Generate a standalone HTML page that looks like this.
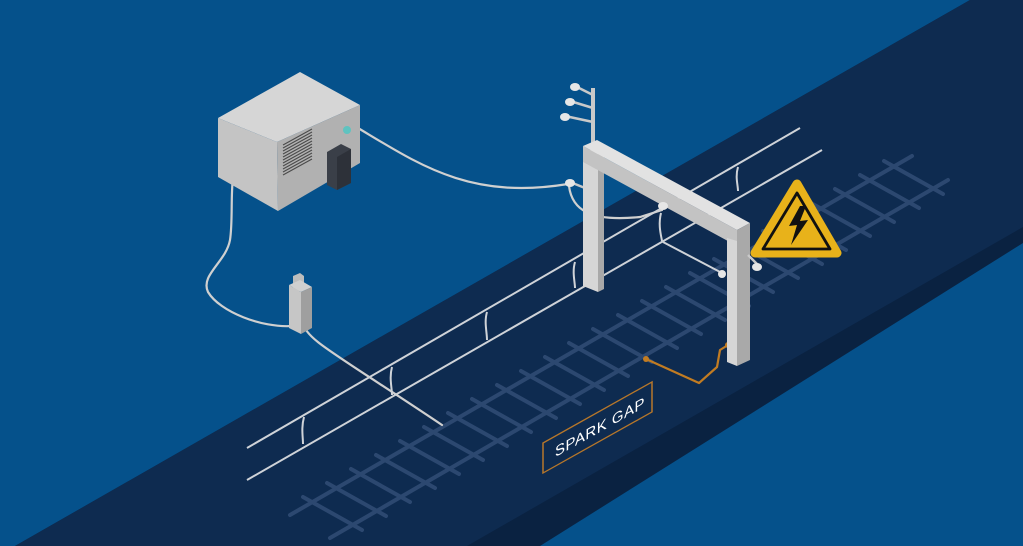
<!DOCTYPE html>
<html><head><meta charset="utf-8"><style>
html,body{margin:0;padding:0;background:#05518b;width:1023px;height:546px;overflow:hidden}
svg{display:block}
</style></head><body>
<svg width="1023" height="546" viewBox="0 0 1023 546" xmlns="http://www.w3.org/2000/svg">
<rect width="1023" height="546" fill="#05518b"/>
<polygon points="970,0 1023,0 1023,243 540,546 15,546" fill="#0a2241"/>
<polygon points="970,0 1023,0 1023,227 467,546 15,546" fill="#0e2b50"/>
<!-- track -->
<g stroke="#2c4870" stroke-width="4" stroke-linecap="round">
<line x1="290" y1="515" x2="912" y2="156"/>
<line x1="330" y1="538" x2="948" y2="180"/>
<line x1="303" y1="497" x2="362" y2="530"/><line x1="327" y1="483" x2="386" y2="516"/><line x1="351" y1="469" x2="410" y2="502"/><line x1="376" y1="455" x2="435" y2="488"/><line x1="400" y1="441" x2="459" y2="474"/><line x1="424" y1="427" x2="483" y2="460"/><line x1="448" y1="413" x2="507" y2="446"/><line x1="472" y1="399" x2="531" y2="432"/><line x1="497" y1="385" x2="556" y2="418"/><line x1="521" y1="371" x2="580" y2="404"/><line x1="545" y1="357" x2="604" y2="390"/><line x1="569" y1="343" x2="628" y2="376"/><line x1="593" y1="329" x2="652" y2="362"/><line x1="618" y1="315" x2="677" y2="348"/><line x1="642" y1="301" x2="701" y2="334"/><line x1="666" y1="287" x2="725" y2="320"/><line x1="690" y1="273" x2="749" y2="306"/><line x1="714" y1="259" x2="773" y2="292"/><line x1="739" y1="245" x2="798" y2="278"/><line x1="763" y1="231" x2="822" y2="264"/><line x1="787" y1="217" x2="846" y2="250"/><line x1="811" y1="203" x2="870" y2="236"/><line x1="835" y1="189" x2="894" y2="222"/><line x1="860" y1="175" x2="919" y2="208"/><line x1="884" y1="161" x2="943" y2="194"/>
</g>
<!-- cables -->
<g fill="none" stroke="#d0d0d0" stroke-width="2.2" stroke-linecap="round">
<path d="M358,128 C420,165 470,200 568,184"/>
<path d="M239,164 C228,170 234,215 230,240 C226,262 200,275 208,292 C220,312 262,328 292,326"/>
<path d="M303,322 C306,340 330,350 442,425"/>
<path d="M569,186 C572,210 590,222 640,217 L662,210"/>
</g>
<!-- wires -->
<g stroke="#cfd3d8" stroke-width="2" fill="none">
<line x1="247" y1="448" x2="800" y2="128"/>
<line x1="247" y1="480" x2="822" y2="150"/>
<path d="M304,417 C301,428 303,437 303,444"/>
<path d="M392,367 C389,378 392,388 392,395"/>
<path d="M487,312 C484,322 487,332 487,340"/>
<path d="M575,262 C572,272 575,282 575,288"/>
<path d="M661,213 C658,225 661,235 662,241"/>
<path d="M738,167 C735,177 738,185 738,191"/>
<line x1="663" y1="242" x2="722" y2="273"/>
</g>
<!-- spark gap wire -->
<path d="M646,359 L699,383 L717,367 L720,350 L728,345" fill="none" stroke="#c27c22" stroke-width="2.2" stroke-linejoin="round"/>
<circle cx="646" cy="359" r="3" fill="#c27c22"/><circle cx="728" cy="345" r="3" fill="#c27c22"/>
<!-- gantry -->
<g>
<line x1="593" y1="152" x2="593" y2="88" stroke="#c9c9c9" stroke-width="4"/>
<line x1="593" y1="95" x2="575" y2="86" stroke="#c9c9c9" stroke-width="2.5"/>
<line x1="593" y1="108" x2="570" y2="101" stroke="#c9c9c9" stroke-width="2.5"/>
<line x1="593" y1="122" x2="565" y2="116" stroke="#c9c9c9" stroke-width="2.5"/>
<line x1="590" y1="190" x2="570" y2="182" stroke="#c9c9c9" stroke-width="2.5"/>
<ellipse cx="575" cy="87" rx="5" ry="4" fill="#e6e6e6"/>
<ellipse cx="570" cy="102" rx="5" ry="4" fill="#e6e6e6"/>
<ellipse cx="565" cy="117" rx="5" ry="4" fill="#e6e6e6"/>
<ellipse cx="570" cy="183" rx="5" ry="4" fill="#e6e6e6"/>
<polygon points="583,150 598,150 598,292 583,286" fill="#d6d6d6"/>
<polygon points="598,150 604,147 604,289 598,292" fill="#a9a9a9"/>
<polygon points="583,146 737,230 737,246 583,162" fill="#c3c3c3"/>
<polygon points="583,146 597,140 750,223 737,230" fill="#e2e2e2"/>
<polygon points="727,238 737,241 737,366 727,362" fill="#d6d6d6"/>
<polygon points="737,230 750,223 750,360 737,366" fill="#a9a9a9"/>
<line x1="748" y1="255" x2="757" y2="264" stroke="#c9c9c9" stroke-width="2.5"/>
<ellipse cx="757" cy="267" rx="5" ry="4" fill="#e6e6e6"/>
<ellipse cx="663" cy="206" rx="5" ry="4" fill="#e6e6e6"/>
<ellipse cx="722" cy="274" rx="4" ry="4" fill="#e6e6e6"/>
</g>
<!-- warning sign -->
<path d="M797,184 L837,253 L755,253 Z" fill="#e8b21a" stroke="#e8b21a" stroke-width="9" stroke-linejoin="round"/>
<path d="M797,193 L830,249 L763,249 Z" fill="none" stroke="#111" stroke-width="2.8" stroke-linejoin="round"/>
<path d="M800,206 L789,226 L797,225 L791,245 L808,220 L800,221 L806,206 Z" fill="#111"/>
<!-- equipment box -->
<polygon points="218,118 300,72 360,105 277,142" fill="#d6d6d6"/>
<polygon points="218,118 277,142 278,211 218,177" fill="#c4c4c4"/>
<polygon points="277,142 360,105 360,163 278,211" fill="#b1b1b1"/>
<g stroke="#4a4a4a" stroke-width="1">
<line x1="283" y1="145" x2="312" y2="129"/><line x1="283" y1="148" x2="312" y2="132"/><line x1="283" y1="151" x2="312" y2="135"/><line x1="283" y1="154" x2="312" y2="138"/><line x1="283" y1="157" x2="312" y2="141"/><line x1="283" y1="160" x2="312" y2="144"/><line x1="283" y1="163" x2="312" y2="147"/><line x1="283" y1="166" x2="312" y2="150"/><line x1="283" y1="169" x2="312" y2="153"/><line x1="283" y1="172" x2="312" y2="156"/><line x1="283" y1="175" x2="312" y2="159"/>
</g>
<polygon points="327,152 341,144 351,149 351,183 337,190 327,185" fill="#3a3f48"/>
<polygon points="337,157 351,149 351,183 337,190" fill="#2d3139"/>
<circle cx="347" cy="130" r="4" fill="#5fc3c0"/>
<!-- small box -->
<polygon points="293,276 300,273 304,276 304,289 297,292 293,289" fill="#bdbdbd"/>
<polygon points="289,285 300,280 312,287 301,292" fill="#d0d0d0"/>
<polygon points="289,285 301,292 301,334 289,328" fill="#c6c6c6"/>
<polygon points="301,292 312,287 312,328 301,334" fill="#9f9f9f"/>
<!-- spark gap label -->
<g transform="matrix(1,-0.56,0,1,543,443)">
<rect x="0" y="0" width="109" height="30" fill="none" stroke="#b7772a" stroke-width="1.5"/>
<text x="12" y="21" font-family="Liberation Sans, sans-serif" font-size="15" fill="#ffffff" letter-spacing="0.5">SPARK GAP</text>
</g>
</svg>
</body></html>
